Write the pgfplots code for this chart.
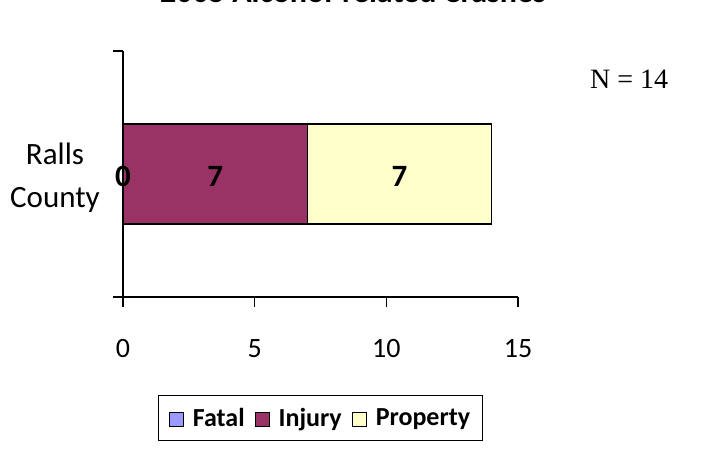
\documentclass[border=0pt]{standalone}
\usepackage{fontspec}
\setmainfont{Carlito}
\newfontfamily\timesfont{Liberation Serif}
\usepackage{pgfplots}
\pgfplotsset{compat=1.18}
\definecolor{fatal}{HTML}{9999FF}
\definecolor{injury}{HTML}{993366}
\definecolor{property}{HTML}{FFFFCC}
\begin{document}
\begin{tikzpicture}[x=1pt,y=1pt]
\path[use as bounding box] (0,0) rectangle (702,453);
\node[font=\bfseries\fontsize{32}{38}\selectfont, anchor=base, inner sep=0pt] at (353,450) {2005 Alcohol-related Crashes};
\node[font=\timesfont\fontsize{28}{34}\selectfont, anchor=base west, inner sep=0pt] at (590,364) {N = 14};
\node[font=\fontsize{31}{37}\selectfont, anchor=base, inner sep=0pt] at (55,288) {Ralls};
\node[font=\fontsize{31}{37}\selectfont, anchor=base, inner sep=0pt] at (55,245) {County};
\begin{axis}[at={(123pt,156pt)}, anchor=south west, scale only axis,
  width=395pt, height=246pt,
  xbar stacked, bar width=100pt,
  xmin=0, xmax=15, ymin=0, ymax=1,
  axis x line*=bottom, axis y line*=left,
  axis line style={-, line width=1.5pt},
  xtick={0,5,10,15}, ytick={0,1}, yticklabels={},
  tick align=outside, major tick length=10pt,
  tick style={line width=1.5pt, black},
  xticklabel style={font=\fontsize{28}{34}\selectfont, yshift=-29pt},
  /pgf/number format/assume math mode=true,
  clip=false,
  legend style={at={(0.5,-0.492)}, anchor=center, draw=black, line width=1pt,
    legend columns=3, font=\bfseries\fontsize{26}{31}\selectfont,
    inner xsep=10pt, inner ysep=11pt,
    /tikz/every even column/.append style={column sep=8pt},
    /tikz/every odd column/.append style={column sep=7pt}},
  legend image code/.code={\draw[#1,draw=black,line width=1pt] (0pt,-8pt) rectangle (14pt,6pt);},
]
\addplot[fill=fatal, draw=black, line width=1.2pt] coordinates {(0,0.5)};
\addplot[fill=injury, draw=black, line width=1.2pt] coordinates {(7,0.5)};
\addplot[fill=property, draw=black, line width=1.2pt] coordinates {(7,0.5)};
\legend{Fatal, Injury, Property}
\coordinate (l0) at (axis cs:0,0.5);
\coordinate (l1) at (axis cs:3.5,0.5);
\coordinate (l2) at (axis cs:10.5,0.5);
\end{axis}
\node[font=\bfseries\fontsize{31}{37}\selectfont, anchor=base, inner sep=0pt] at ([yshift=-13pt]l0) {0};
\node[font=\bfseries\fontsize{31}{37}\selectfont, anchor=base, inner sep=0pt] at ([yshift=-13pt]l1) {7};
\node[font=\bfseries\fontsize{31}{37}\selectfont, anchor=base, inner sep=0pt] at ([yshift=-13pt]l2) {7};
\end{tikzpicture}
\end{document}
